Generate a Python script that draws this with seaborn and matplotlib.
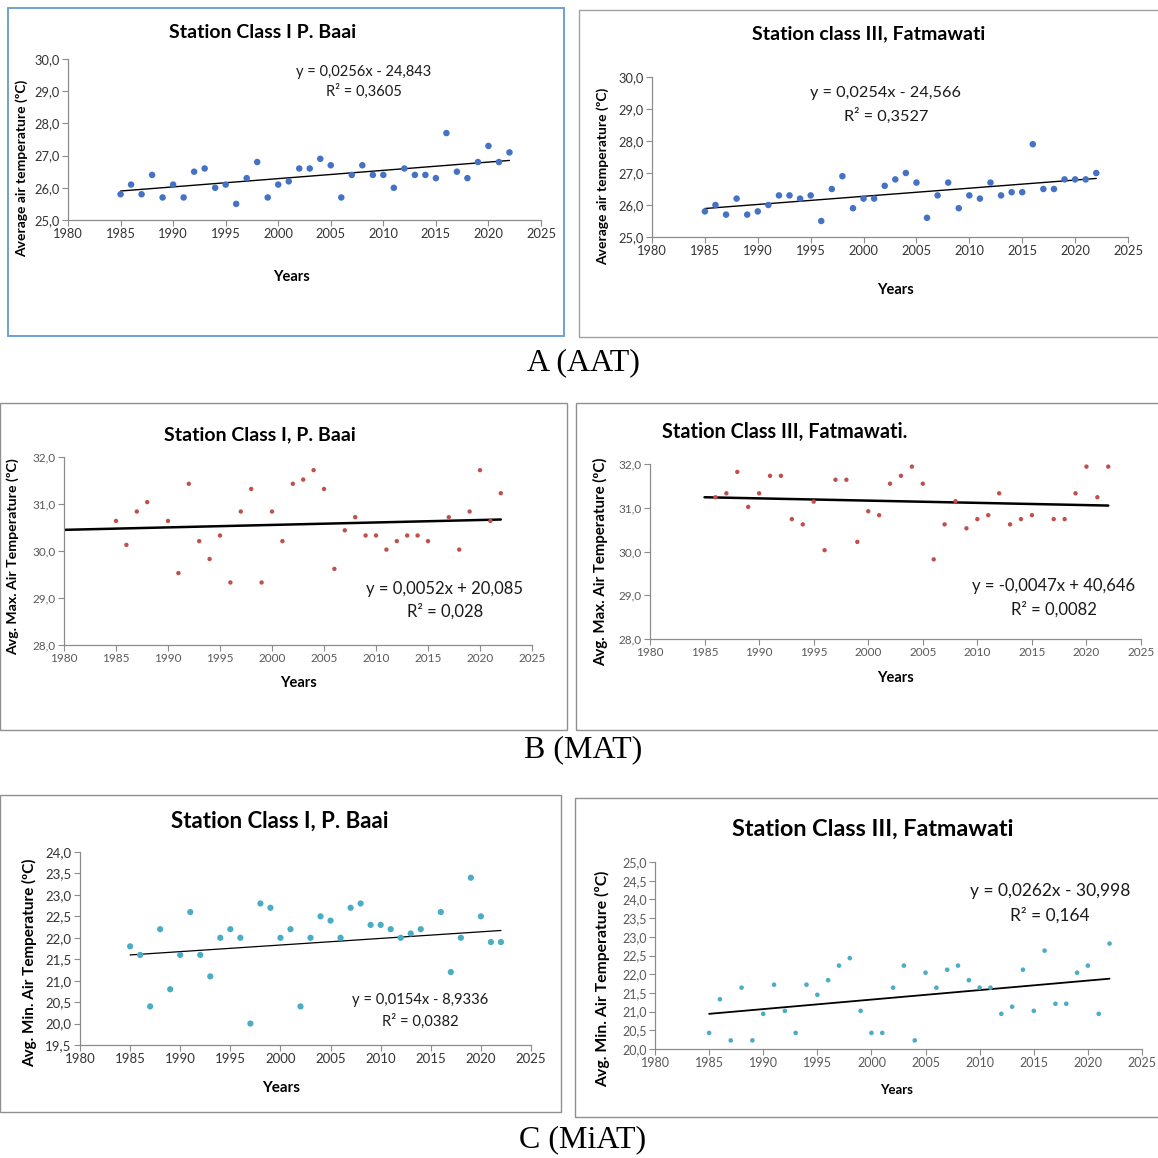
import numpy as np
import pandas as pd
import matplotlib
matplotlib.use("Agg")
import matplotlib.pyplot as plt
import seaborn as sns
from matplotlib.ticker import FuncFormatter, MultipleLocator
from matplotlib.patches import Rectangle

# ---------------- data ----------------
years = [1985, 1986, 1987, 1988, 1989, 1990, 1991, 1992, 1993, 1994,
         1995, 1996, 1997, 1998, 1999, 2000, 2001, 2002, 2003, 2004,
         2005, 2006, 2007, 2008, 2009, 2010, 2011, 2012, 2013, 2014,
         2015, 2016, 2017, 2018, 2019, 2020, 2021, 2022]
nan = np.nan

aat_baai = [25.8, 26.1, 25.8, 26.4, 25.7, 26.1, 25.7, 26.5, 26.6, 26.0,
            26.1, 25.5, 26.3, 26.8, 25.7, 26.1, 26.2, 26.6, 26.6, 26.9,
            26.7, 25.7, 26.4, 26.7, 26.4, 26.4, 26.0, 26.6, 26.4, 26.4,
            26.3, 27.7, 26.5, 26.3, 26.8, 27.3, 26.8, 27.1]
aat_fatmawati = [25.8, 26.0, 25.7, 26.2, 25.7, 25.8, 26.0, 26.3, 26.3, 26.2,
                 26.3, 25.5, 26.5, 26.9, 25.9, 26.2, 26.2, 26.6, 26.8, 27.0,
                 26.7, 25.6, 26.3, 26.7, 25.9, 26.3, 26.2, 26.7, 26.3, 26.4,
                 26.4, 27.9, 26.5, 26.5, 26.8, 26.8, 26.8, 27.0]
mat_baai = [30.64, 30.13, 30.84, 31.04, nan, 30.64, 29.53, 31.43, 30.21, 29.83,
            30.33, 29.33, 30.84, 31.32, 29.33, 30.84, 30.21, 31.43, 31.52, 31.72,
            31.32, 29.62, 30.44, 30.72, 30.33, 30.33, 30.03, 30.21, 30.33, 30.33,
            30.21, nan, 30.72, 30.03, 30.84, 31.72, 30.64, 31.23]
mat_fatmawati = [nan, 31.24, 31.33, 31.82, 31.02, 31.33, 31.73, 31.73, 30.74, 30.62,
                 31.14, 30.03, 31.64, 31.64, 30.22, 30.92, 30.83, 31.55, 31.73, 31.94,
                 31.55, 29.82, 30.62, 31.15, 30.53, 30.74, 30.83, 31.33, 30.62, 30.74,
                 30.83, nan, 30.74, 30.74, 31.33, 31.94, 31.24, 31.94]
miat_baai = [21.8, 21.6, 20.4, 22.2, 20.8, 21.6, 22.6, 21.6, 21.1, 22.0,
             22.2, 22.0, 20.0, 22.8, 22.7, 22.0, 22.2, 20.4, 22.0, 22.5,
             22.4, 22.0, 22.7, 22.8, 22.3, 22.3, 22.2, 22.0, 22.1, 22.2,
             nan, 22.6, 21.2, 22.0, 23.4, 22.5, 21.9, 21.9]
miat_fatmawati = [20.43, 21.33, 20.23, 21.64, 20.23, 20.94, 21.72, 21.02, 20.43, 21.72,
                  21.45, 21.84, 22.23, 22.43, 21.02, 20.43, 20.43, 21.64, 22.23, 20.23,
                  22.04, 21.64, 22.12, 22.23, 21.84, 21.64, 21.64, 20.94, 21.13, 22.12,
                  21.02, 22.63, 21.21, 21.21, 22.04, 22.23, 20.94, 22.82]

# linear trend lines: (start year, end year) and values read at those ends
trend_years = [(1985, 2022), (1985, 2022), (1980, 2022), (1985, 2022), (1985, 2022), (1985, 2022)]
trend_values = [(25.90, 26.85), (25.89, 26.83), (30.45, 30.67),
                (31.24, 31.05), (21.60, 22.17), (20.94, 21.88)]

titles = ["Station Class I P. Baai", "Station class III, Fatmawati",
          "Station Class I, P. Baai", "Station Class III, Fatmawati.",
          "Station Class I, P. Baai", "Station Class III, Fatmawati"]
ylabels = ["Average air temperature (ºC)", "Average air temperature (ºC)",
           "Avg. Max. Air Temperature (ºC)", "Avg. Max. Air Temperature (ºC)",
           "Avg. Min. Air Temperature (ºC)", "Avg. Min. Air Temperature (ºC)"]
equations = [("y = 0,0256x - 24,843", "R² = 0,3605"),
             ("y = 0,0254x - 24,566", "R² = 0,3527"),
             ("y = 0,0052x + 20,085", "R² = 0,028"),
             ("y = -0,0047x + 40,646", "R² = 0,0082"),
             ("y = 0,0154x - 8,9336", "R² = 0,0382"),
             ("y = 0,0262x - 30,998", "R² = 0,164")]
captions = ["A (AAT)", "B (MAT)", "C (MiAT)"]
series = [aat_baai, aat_fatmawati, mat_baai, mat_fatmawati, miat_baai, miat_fatmawati]

# ---------------- layout / style ----------------
W = H = 1158
sns.set_theme(style="white")
plt.rcParams['font.family'] = ['Lato', 'DejaVu Sans']

fig = plt.figure(figsize=(W / 100, H / 100), dpi=100)
fig.patch.set_facecolor("white")

def fx(x):
    return x / W

def fy(y):
    return 1 - y / H

BLUE, RED, TEAL = "#4472C4", "#C0504D", "#4BACC6"

styles = [
    dict(box=(8, 8, 564, 336), bc="#6FA0D8", blw=1.4,
         ax=(68, 59, 541, 220), ylim=(25, 30), ystep=1, color=BLUE, s=22,
         flw=1.0, tsz=9.3, tcol="#333333",
         title=(263, 32, 14, "center"), ylab=(22, 168, 10), xlab=(291, 277, 10.5),
         eq=(364, 72, 91, 10.5)),
    dict(box=(579, 10, 1160, 337), bc="#A0A0A0", blw=1.0,
         ax=(652, 77, 1128, 237), ylim=(25, 30), ystep=1, color=BLUE, s=22,
         flw=1.0, tsz=9.3, tcol="#333333",
         title=(869, 34, 14, "center"), ylab=(603, 176, 10), xlab=(895, 290, 10.5),
         eq=(886, 93, 116, 11.7)),
    dict(box=(0, 403, 567, 730), bc="#909090", blw=1.0,
         ax=(64, 457, 532, 645), ylim=(28, 32), ystep=1, color=RED, s=10,
         flw=1.8, tsz=8.5, tcol="#595959",
         title=(260, 435, 14, "center"), ylab=(13, 557, 10.2), xlab=(298, 683, 10.5),
         eq=(445, 589, 611, 12)),
    dict(box=(576, 403, 1160, 730), bc="#909090", blw=1.0,
         ax=(650, 464, 1141, 639), ylim=(28, 32), ystep=1, color=RED, s=10,
         flw=1.8, tsz=8.5, tcol="#595959",
         title=(662, 432, 14.3, "left"), ylab=(601, 562, 10.8), xlab=(895, 678, 10.5),
         eq=(1054, 586, 609, 12)),
    dict(box=(0, 795, 561, 1112), bc="#909090", blw=1.0,
         ax=(80, 852, 531, 1045), ylim=(19.5, 24.0), ystep=0.5, color=TEAL, s=20,
         flw=0.9, tsz=9.5, tcol="#333333",
         title=(280, 821, 16, "center"), ylab=(30, 963, 11), xlab=(281, 1088, 11),
         eq=(420, 1000, 1021, 10.6)),
    dict(box=(575, 798, 1160, 1117), bc="#909090", blw=1.0,
         ax=(655, 862, 1142, 1049), ylim=(20.0, 25.0), ystep=0.5, color=TEAL, s=11,
         flw=1.3, tsz=9, tcol="#595959",
         title=(873, 829, 16.8, "center"), ylab=(603, 979, 11.3), xlab=(897, 1090, 9.5),
         eq=(1050, 891, 915, 12.5)),
]

comma_fmt = FuncFormatter(lambda v, _: f"{v:.1f}".replace(".", ","))
year_fmt = FuncFormatter(lambda v, _: f"{int(round(v))}")

for i, st in enumerate(styles):
    # panel frame
    x0, y0, x1, y1 = st["box"]
    fig.add_artist(Rectangle((fx(x0), fy(y1)), fx(x1 - x0), (y1 - y0) / H,
                             transform=fig.transFigure, fill=False,
                             edgecolor=st["bc"], linewidth=st["blw"]))
    ax_l, ax_t, ax_r, ax_b = st["ax"]
    ax = fig.add_axes([fx(ax_l), fy(ax_b), fx(ax_r - ax_l), (ax_b - ax_t) / H])
    ax.set_facecolor("none")

    df = pd.DataFrame({"year": years, "value": series[i]}).dropna()
    sns.scatterplot(data=df, x="year", y="value", ax=ax, color=st["color"],
                    s=st["s"], edgecolor="none", linewidth=0, zorder=3)

    trend = pd.DataFrame({"year": trend_years[i], "value": trend_values[i]})
    sns.lineplot(data=trend, x="year", y="value", ax=ax, color="black",
                 linewidth=st["flw"], zorder=2)

    ax.set_xlim(1980, 2025)
    ax.set_ylim(*st["ylim"])
    ax.xaxis.set_major_locator(MultipleLocator(5))
    ax.yaxis.set_major_locator(MultipleLocator(st["ystep"]))
    ax.xaxis.set_major_formatter(year_fmt)
    ax.yaxis.set_major_formatter(comma_fmt)
    for side in ("top", "right"):
        ax.spines[side].set_visible(False)
    for side in ("left", "bottom"):
        ax.spines[side].set_color("#8C8C8C")
        ax.spines[side].set_linewidth(0.9)
    ax.tick_params(axis="both", direction="out", length=4, width=0.8,
                   color="#8C8C8C", labelsize=st["tsz"], labelcolor=st["tcol"],
                   pad=2, left=True, bottom=True)
    ax.grid(False)

    ax.set_xlabel("Years", fontsize=st["xlab"][2], fontweight="bold", color="black")
    ax.xaxis.set_label_coords(fx(st["xlab"][0]), fy(st["xlab"][1]), transform=fig.transFigure)
    ax.xaxis.label.set_verticalalignment("center")
    ax.set_ylabel(ylabels[i], fontsize=st["ylab"][2], fontweight="bold", color="black")
    ax.yaxis.set_label_coords(fx(st["ylab"][0]), fy(st["ylab"][1]), transform=fig.transFigure)
    ax.yaxis.label.set_verticalalignment("center")

    tx, ty, tsz, tha = st["title"]
    fig.text(fx(tx), fy(ty), titles[i], fontsize=tsz, fontweight="bold",
             ha=tha, va="center", color="black")

    ex, ey1, ey2, esz = st["eq"]
    fig.text(fx(ex), fy(ey1), equations[i][0], fontsize=esz, ha="center", va="center", color="#1a1a1a")
    fig.text(fx(ex), fy(ey2), equations[i][1], fontsize=esz, ha="center", va="center", color="#1a1a1a")

for cap, cy in zip(captions, [363, 750, 1140]):
    fig.text(fx(583), fy(cy), cap, fontsize=23, family=["Liberation Serif", "DejaVu Serif"],
             ha="center", va="center", color="black")

fig.savefig("out.png", dpi=100, facecolor="white")
